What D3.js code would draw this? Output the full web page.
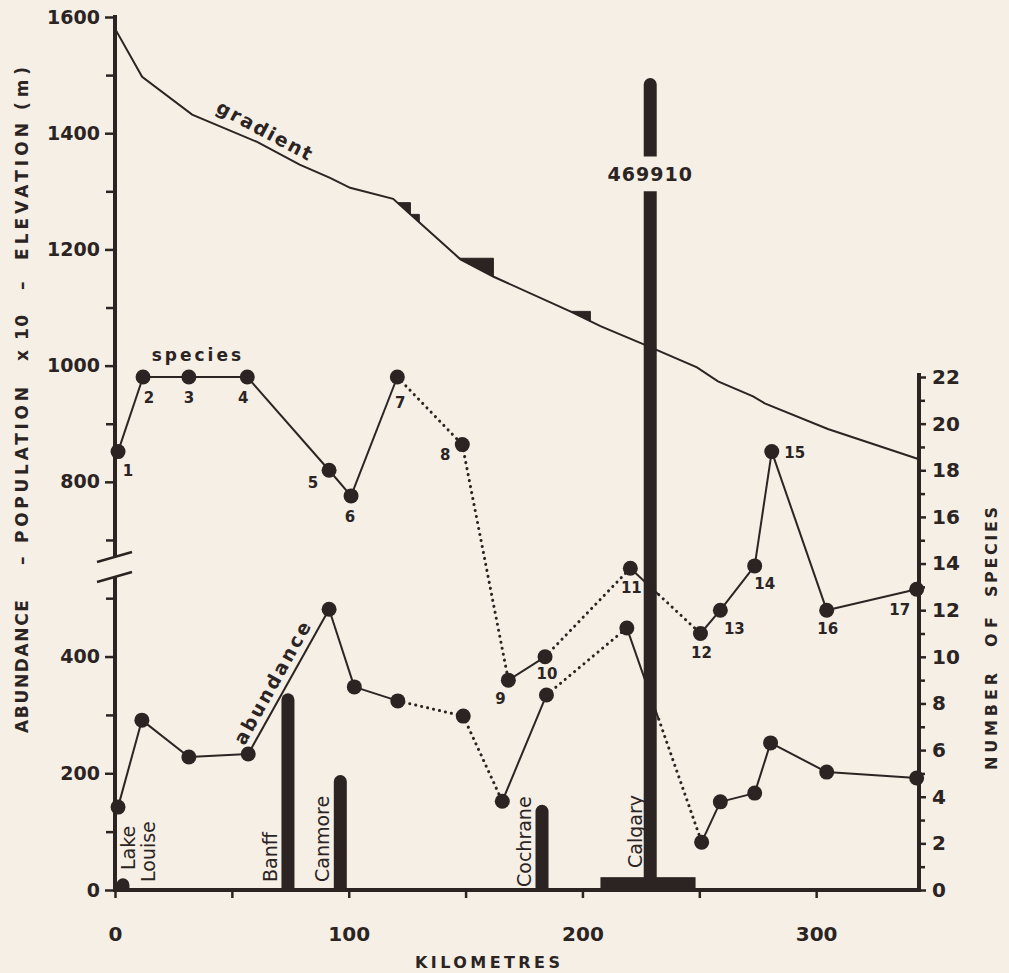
<!DOCTYPE html>
<html><head><meta charset="utf-8">
<script src="https://cdn.jsdelivr.net/npm/d3@7/dist/d3.min.js"></script>
<style>
html,body{margin:0;padding:0;background:#f5efe6;}
svg{display:block;}
text{font-family:"DejaVu Sans",sans-serif;fill:#2b2422;}
</style></head><body>
<svg id="chart" width="1009" height="973"></svg>
<script>
// ---------- data ----------
const stationIds = ["1","2","3","4","5","6","7","8","9","10","11","12","13","14","15","16","17"];
const speciesKm = [1.3, 12, 31.6, 56.6, 91.6, 101, 120.8, 148.6, 168.3, 184, 220.5, 250.5, 259, 273.7, 281, 304.5, 343];
const speciesCount = [18.8, 22, 22, 22, 18, 16.9, 22, 19.1, 9, 10, 13.8, 11, 12, 13.9, 18.8, 12, 12.9];
const abundanceKm = [1.3, 11.5, 31.6, 57, 91.6, 102.4, 121, 149, 165.7, 184.6, 219, 251, 259, 273.7, 280.5, 304.5, 343];
const abundanceValue = [142, 291, 228, 233, 481, 348, 324, 298, 152, 334, 449, 82, 151, 166, 252, 202, 192];
// segments (index i -> i+1) drawn dotted
const dottedSegments = [6, 7, 9];
const halfDottedSegment = 10; // solid up to the Calgary bar, dotted after
const gradientKm = [0, 11.6, 33, 60.8, 79, 92, 100.6, 119, 129.8, 147.8, 162, 195, 207.7, 226, 249, 258, 273, 278, 305, 344];
const gradientElev = [1580, 1497, 1432, 1385, 1346, 1323, 1306, 1287, 1248, 1183, 1153, 1093, 1068, 1037, 997, 973, 947, 935, 891, 839];
const gradientMarks = [[120.8, 126.4], [126.4, 130.2], [147.3, 161.9], [194.8, 203.4]];
const townNames = ["Lake|Louise", "Banff", "Canmore", "Cochrane", "Calgary"];
const townKm = [3.4, 74, 96.4, 182.7, 229];
const townPop10 = [20, 337, 197, 146, 46991];
const calgaryLabel = "469910";
const calgaryBreak = [1300, 1360];
const calgaryDrawnTop = 1495;
const calgaryAreaKm = [207.7, 248.4];
const calgaryAreaValue = 22;
const leftMajor = [0, 200, 400, 800, 1000, 1200, 1400, 1600];
const leftMinor = [100, 300, 500, 700, 900, 1100, 1300, 1500];
const rightMajor = [0, 2, 4, 6, 8, 10, 12, 14, 16, 18, 20, 22];
const rightMinor = [1, 3, 5, 7, 9, 11, 13, 15, 17, 19, 21];
const xMajor = [0, 100, 200, 300];
const xAll = [0, 50, 100, 150, 200, 250, 300];
const leftTitleWords = ["ABUNDANCE", "–", "POPULATION", "x", "10", "–", "ELEVATION", "(m)"];
const rightTitleWords = ["NUMBER", "OF", "SPECIES"];
const xTitle = "KILOMETRES";
const labelOffsets = [[10,19],[6,21],[0,21],[-4,21],[-16,13],[-1,21],[3,26],[-17,10],[-8,19],[2,17],[1,20],[1,19],[14,19],[10,18],[23,1],[1,19],[-17,21]];

// ---------- setup ----------
const ink = "#2b2422";
const svg = d3.select("#chart");
const x = d3.scaleLinear().domain([0, 344]).range([115, 919]);
const yL = d3.scaleLinear().domain([0, 550, 650, 1600]).range([890, 569, 569, 17]);
const yR = d3.scaleLinear().domain([0, 22]).range([890, 377]);
const gradAt = d3.scaleLinear().domain(gradientKm).range(gradientElev);

// ---------- axes ----------
function styleAxis(g, size) {
  g.select(".domain").remove();
  g.selectAll("line").attr("stroke", ink).attr("stroke-width", 2.5);
  g.selectAll("text").attr("font-weight", "bold").attr("font-size", size).attr("fill", ink)
   .attr("font-family", "DejaVu Sans, sans-serif");
}
svg.append("g").attr("transform", "translate(115,0)")
  .call(d3.axisLeft(yL).tickValues(leftMajor).tickSize(10).tickPadding(5).tickFormat(d3.format("d")))
  .call(g => styleAxis(g, 19));
svg.append("g").attr("transform", "translate(115,0)")
  .call(d3.axisLeft(yL).tickValues(leftMinor).tickSize(9).tickFormat(""))
  .call(g => styleAxis(g, 19));
svg.append("g").attr("transform", "translate(919,0)")
  .call(d3.axisRight(yR).tickValues(rightMajor).tickSize(7).tickPadding(6).tickFormat(d3.format("d")))
  .call(g => styleAxis(g, 20));
svg.append("g").attr("transform", "translate(919,0)")
  .call(d3.axisRight(yR).tickValues(rightMinor).tickSize(6).tickFormat(""))
  .call(g => styleAxis(g, 20));
svg.append("g").attr("transform", "translate(0,890)")
  .call(d3.axisBottom(x).tickValues(xAll).tickSize(8).tickPadding(29).tickFormat(d => xMajor.includes(d) ? d : ""))
  .call(g => styleAxis(g, 20));

// axis lines
const ax = svg.append("g").attr("stroke", ink).attr("stroke-width", 4).attr("fill", "none");
const breakLow = 577, breakHigh = 557;
ax.append("line").attr("x1", x(0)).attr("x2", x(0)).attr("y1", yL(0) + 2).attr("y2", breakLow);
ax.append("line").attr("x1", x(0)).attr("x2", x(0)).attr("y1", breakHigh).attr("y2", yL(1600) - 2);
ax.append("line").attr("x1", x(0) - 2).attr("x2", x(344) + 2).attr("y1", yL(0)).attr("y2", yL(0));
ax.append("line").attr("x1", x(344)).attr("x2", x(344)).attr("y1", yR(0) + 2).attr("y2", yR(22) - 4);
// break slashes
const sl = svg.append("g").attr("stroke", ink).attr("stroke-width", 2.5);
[breakHigh, breakLow].forEach(yb => {
  sl.append("line").attr("x1", x(0) - 18).attr("y1", yb + 5).attr("x2", x(0) + 17).attr("y2", yb - 5);
});

// ---------- gradient ----------
const gradPts = gradientKm.map((k, i) => [x(k), yL(gradientElev[i])]);
svg.append("path").attr("d", d3.line()(gradPts)).attr("fill", "none").attr("stroke", ink).attr("stroke-width", 2);
gradientMarks.forEach(([a, b]) => {
  const ya = yL(gradAt(a));
  const pts = [[x(a), ya], [x(b), ya], [x(b), yL(gradAt(b))]];
  svg.append("path").attr("d", d3.line()(pts) + "Z").attr("fill", ink).attr("stroke", ink).attr("stroke-width", 1);
});

// ---------- population bars ----------
const barW = 13;
function barPath(cx, yTop, yBottom, round) {
  const r = barW / 2;
  if (round) return `M${cx - r},${yBottom}V${yTop + r}A${r},${r} 0 0 1 ${cx + r},${yTop + r}V${yBottom}Z`;
  return `M${cx - r},${yBottom}V${yTop}H${cx + r}V${yBottom}Z`;
}
const bars = svg.append("g").attr("fill", ink);
townKm.forEach((k, i) => {
  const cx = x(k);
  if (townPop10[i] > 1600) {
    bars.append("path").attr("d", barPath(cx, yL(calgaryBreak[0]), yL(0), false));
    bars.append("path").attr("d", barPath(cx, yL(calgaryDrawnTop), yL(calgaryBreak[1]), true));
    svg.append("text").attr("x", cx).attr("y", yL((calgaryBreak[0] + calgaryBreak[1]) / 2))
      .attr("text-anchor", "middle").attr("dominant-baseline", "central")
      .attr("font-weight", "bold").attr("font-size", 19).attr("letter-spacing", 1).text(calgaryLabel);
  } else {
    bars.append("path").attr("d", barPath(cx, yL(townPop10[i]), yL(0), true));
  }
});
bars.append("rect").attr("x", x(calgaryAreaKm[0])).attr("width", x(calgaryAreaKm[1]) - x(calgaryAreaKm[0]))
  .attr("y", yL(calgaryAreaValue)).attr("height", yL(0) - yL(calgaryAreaValue));

// town labels
const townLabelDx = [[5, 25], [-18], [-18], [-18.5], [-15]];
const townLabelBottom = [[870, 882], [882], [882], [887], [868]];
townNames.forEach((name, i) => {
  name.split("|").forEach((part, j) => {
    const lx = x(townKm[i]) + townLabelDx[i][j];
    const ly = townLabelBottom[i][j];
    svg.append("text").attr("transform", `translate(${lx},${ly}) rotate(-90)`)
      .attr("dominant-baseline", "central").attr("font-size", 19).text(part);
  });
});

// ---------- series ----------
function drawSeries(kms, vals, yScale) {
  const pts = kms.map((k, i) => [x(k), yScale(vals[i])]);
  const g = svg.append("g").attr("stroke", ink).attr("fill", "none");
  for (let i = 0; i < pts.length - 1; i++) {
    const [p, q] = [pts[i], pts[i + 1]];
    if (i === halfDottedSegment) {
      const xs = x(townKm[4]) + barW / 2 + 2;
      const t = (xs - p[0]) / (q[0] - p[0]);
      const m = [xs, p[1] + t * (q[1] - p[1])];
      g.append("line").attr("x1", p[0]).attr("y1", p[1]).attr("x2", m[0]).attr("y2", m[1]).attr("stroke-width", 2);
      g.append("line").attr("x1", m[0]).attr("y1", m[1]).attr("x2", q[0]).attr("y2", q[1])
        .attr("stroke-width", 3).attr("stroke-dasharray", "0.1,6").attr("stroke-linecap", "round");
    } else if (dottedSegments.includes(i)) {
      g.append("line").attr("x1", p[0]).attr("y1", p[1]).attr("x2", q[0]).attr("y2", q[1])
        .attr("stroke-width", 3).attr("stroke-dasharray", "0.1,6").attr("stroke-linecap", "round");
    } else {
      g.append("line").attr("x1", p[0]).attr("y1", p[1]).attr("x2", q[0]).attr("y2", q[1]).attr("stroke-width", 2);
    }
  }
  svg.append("g").selectAll("circle").data(pts).join("circle")
    .attr("cx", d => d[0]).attr("cy", d => d[1]).attr("r", 7.5).attr("fill", ink);
  return pts;
}
const spPts = drawSeries(speciesKm, speciesCount, yR);
const abPts = drawSeries(abundanceKm, abundanceValue, yL);

// station numbers
svg.append("g").selectAll("text").data(spPts).join("text")
  .attr("x", (d, i) => d[0] + labelOffsets[i][0]).attr("y", (d, i) => d[1] + labelOffsets[i][1])
  .attr("text-anchor", "middle").attr("dominant-baseline", "central")
  .attr("font-weight", "bold").attr("font-size", 15).text((d, i) => stationIds[i]);

// ---------- series names ----------
svg.append("text").attr("x", spPts[2][0] + 9).attr("y", spPts[2][1] - 22)
  .attr("text-anchor", "middle").attr("dominant-baseline", "central")
  .attr("font-weight", "bold").attr("font-size", 17).attr("letter-spacing", 3).text("species");
{
  const k = 61.6, y0 = yL(gradAt(k));
  const ang = Math.atan2(yL(gradAt(k + 5)) - y0, x(k + 5) - x(k)) * 180 / Math.PI;
  svg.append("text").attr("transform", `translate(${x(k)},${y0}) rotate(${ang}) translate(0,-14)`)
    .attr("text-anchor", "middle").attr("dominant-baseline", "central")
    .attr("font-weight", "bold").attr("font-size", 19).attr("letter-spacing", 2).text("gradient");
}
{
  const p = abPts[3], q = abPts[4];
  const ang = Math.atan2(q[1] - p[1], q[0] - p[0]) * 180 / Math.PI;
  svg.append("text").attr("transform", `translate(${(p[0] + q[0]) / 2},${(p[1] + q[1]) / 2}) rotate(${ang}) translate(-8,-14)`)
    .attr("text-anchor", "middle").attr("dominant-baseline", "central")
    .attr("font-weight", "bold").attr("font-size", 19).attr("letter-spacing", 2.5).text("abundance");
}

// ---------- titles ----------
// word spans along the rotated axes: [bottom y, top y]
const leftTitleSpans = [[733, 600], [565, 555], [543, 387], [361, 349], [340, 315], [290, 280], [260, 123], [110, 67]];
leftTitleWords.forEach((w, i) => {
  const [b, t] = leftTitleSpans[i];
  const el = svg.append("text").attr("transform", `translate(22,${b}) rotate(-90)`)
    .attr("dominant-baseline", "central").attr("font-weight", "bold").attr("font-size", 17).text(w);
  if (w.length > 1) el.attr("textLength", b - t).attr("lengthAdjust", "spacing");
});
const rightTitleSpans = [[770, 673], [647, 617], [597, 507]];
rightTitleWords.forEach((w, i) => {
  const [b, t] = rightTitleSpans[i];
  svg.append("text").attr("transform", `translate(991,${b}) rotate(-90)`)
    .attr("dominant-baseline", "central").attr("font-weight", "bold").attr("font-size", 16)
    .attr("textLength", b - t).attr("lengthAdjust", "spacing").text(w);
});
svg.append("text").attr("x", 415).attr("y", 962)
  .attr("dominant-baseline", "central")
  .attr("font-weight", "bold").attr("font-size", 16)
  .attr("textLength", 145).attr("lengthAdjust", "spacing").text(xTitle);
</script>
</body></html>
